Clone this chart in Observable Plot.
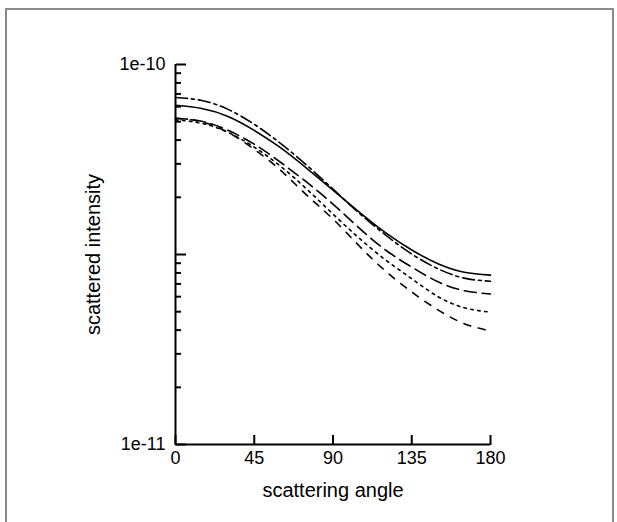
<!DOCTYPE html>
<html><head><meta charset="utf-8">
<script src="https://cdn.jsdelivr.net/npm/d3@7"></script>
<script src="https://cdn.jsdelivr.net/npm/@observablehq/plot@0.6"></script>
<style>
body{margin:0;background:#fff;}
#wrap{position:relative;width:617px;height:522px;overflow:hidden;}
#frame{position:absolute;left:5px;top:8px;width:605px;height:600px;border:2px solid #8a8a8a;pointer-events:none;}
</style></head><body><div id="wrap"><div id="chart"></div><div id="frame"></div></div>
<script>
// scattering angle (degrees)
const angles = [0, 15, 30, 45, 60, 75, 90, 105, 120, 135, 150, 165, 180];
// scattered intensity, five series
const solid    = [7.81e-11, 7.66e-11, 7.30e-11, 6.71e-11, 6.04e-11, 5.33e-11, 4.67e-11, 4.09e-11, 3.61e-11, 3.25e-11, 2.99e-11, 2.84e-11, 2.79e-11];
const dashDot  = [8.19e-11, 8.04e-11, 7.62e-11, 6.96e-11, 6.20e-11, 5.43e-11, 4.70e-11, 4.06e-11, 3.56e-11, 3.17e-11, 2.90e-11, 2.74e-11, 2.69e-11];
const longDash = [7.22e-11, 7.09e-11, 6.71e-11, 6.17e-11, 5.53e-11, 4.90e-11, 4.29e-11, 3.71e-11, 3.25e-11, 2.93e-11, 2.68e-11, 2.54e-11, 2.49e-11];
const dotted   = [7.15e-11, 7.00e-11, 6.63e-11, 6.06e-11, 5.40e-11, 4.70e-11, 4.04e-11, 3.49e-11, 3.06e-11, 2.73e-11, 2.45e-11, 2.29e-11, 2.23e-11];
const shortDash= [7.22e-11, 7.06e-11, 6.63e-11, 5.98e-11, 5.27e-11, 4.53e-11, 3.92e-11, 3.33e-11, 2.86e-11, 2.52e-11, 2.26e-11, 2.08e-11, 1.99e-11];

// axis ticks
const xTicks = [0, 45, 90, 135, 180];
const yLabelTicks = [1e-11, 1e-10];
const yTickLabels = ["1e-11", "1e-10"];
const yMajorTicks = [1e-11, 3.162e-11, 1e-10];
const yMinorTicks = [1.414e-11, 1.732e-11, 2e-11, 2.236e-11, 2.449e-11, 2.646e-11, 2.828e-11, 3e-11,
                     4.472e-11, 5.477e-11, 6.325e-11, 7.071e-11, 7.746e-11, 8.367e-11, 8.944e-11, 9.487e-11];

const series = [
  {values: solid, dash: null},
  {values: dashDot, dash: "12,4,3,4"},
  {values: longDash, dash: "12,6"},
  {values: dotted, dash: "2.5,4.5"},
  {values: shortDash, dash: "7,8"}
];

const lineMarks = series.map(s =>
  Plot.line(angles.map((a, i) => ({angle: a, value: s.values[i]})), {
    x: "angle", y: "value", stroke: "#000", strokeWidth: 1.6,
    strokeDasharray: s.dash || undefined, curve: "natural"
  })
);

const plot = Plot.plot({
  width: 617, height: 522,
  marginLeft: 175, marginRight: 127, marginTop: 64, marginBottom: 78,
  style: {fontFamily: "'Liberation Sans', Arial, sans-serif", fontSize: "18px", color: "#000", background: "transparent"},
  x: {domain: [0, 180]},
  y: {type: "log", domain: [1e-11, 1e-10]},
  marks: [
    ...lineMarks,
    Plot.ruleX([0], {strokeWidth: 2}),
    Plot.ruleY([1e-11], {strokeWidth: 2}),
    Plot.axisX(xTicks, {anchor: "bottom", tickSize: 0, tickPadding: 7, fontSize: 18, label: null}),
    Plot.axisX(xTicks, {anchor: "top", frameAnchor: "bottom", tickSize: 10, strokeWidth: 2, tickFormat: () => "", label: null}),
    Plot.axisY(yLabelTicks, {anchor: "left", tickSize: 0, tickPadding: 10, fontSize: 18, label: null,
      tickFormat: d => yTickLabels[yLabelTicks.indexOf(d)]}),
    Plot.axisY(yMajorTicks, {anchor: "right", frameAnchor: "left", tickSize: 10, strokeWidth: 2, tickFormat: () => "", label: null}),
    Plot.axisY(yMinorTicks, {anchor: "right", frameAnchor: "left", tickSize: 5, strokeWidth: 2, tickFormat: () => "", label: null}),
    Plot.text(["scattering angle"], {frameAnchor: "bottom", textAnchor: "middle", lineAnchor: "middle", dy: 46, fontSize: 20}),
    Plot.text(["scattered intensity"], {frameAnchor: "left", textAnchor: "middle", lineAnchor: "middle", dx: -82, rotate: -90, fontSize: 20})
  ]
});
document.getElementById("chart").appendChild(plot);
</script>
</body></html>
